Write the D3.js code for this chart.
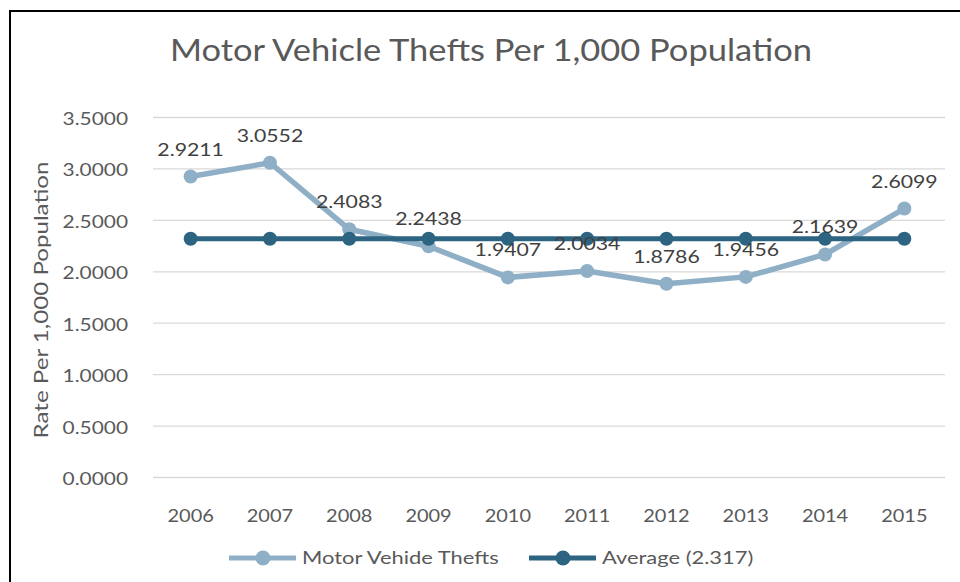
<!DOCTYPE html>
<html>
<head>
<meta charset="utf-8">
<script src="https://cdn.jsdelivr.net/npm/d3@7"></script>
<style>
  html, body { margin: 0; padding: 0; background: #fff; }
  svg { display: block; }
  text { font-family: Lato, "Open Sans", "Liberation Sans", sans-serif; }
</style>
</head>
<body>
<svg id="chart" width="960" height="582"></svg>
<script>
// Motor vehicle theft rates per 1,000 population, 2006-2015
const years = ["2006", "2007", "2008", "2009", "2010", "2011", "2012", "2013", "2014", "2015"];
const thefts = [2.9211, 3.0552, 2.4083, 2.2438, 1.9407, 2.0034, 1.8786, 1.9456, 2.1639, 2.6099];
const average = [2.317, 2.317, 2.317, 2.317, 2.317, 2.317, 2.317, 2.317, 2.317, 2.317];
const yTicks = [0, 0.5, 1.0, 1.5, 2.0, 2.5, 3.0, 3.5];
const seriesNames = ["Motor Vehide Thefts", "Average (2.317)"];

const lightColor = "#8EAFC6";
const darkColor = "#2C6482";
const textColor = "#595959";

const svg = d3.select("#chart");

// chart frame
svg.append("rect")
  .attr("x", 10).attr("y", 11)
  .attr("width", 1000).attr("height", 700)
  .attr("fill", "#fff")
  .attr("stroke", "#000").attr("stroke-width", 2);

const plot = { left: 153, right: 945, top: 117, bottom: 477 };

const x = d3.scaleBand().domain(years).range([plot.left - 2, plot.right - 1]);
const y = d3.scaleLinear().domain([0, 3.5]).range([plot.bottom, plot.top]);
const cx = d => x(d) + x.bandwidth() / 2;

// text is drawn slightly wide, like the original office chart font
const wide = (tx, ty, sx) => `translate(${tx},${ty}) scale(${sx},1)`;

// title
svg.append("text")
  .attr("transform", wide(491, 61, 1.15))
  .attr("text-anchor", "middle")
  .attr("font-size", 30)
  .attr("fill", textColor)
  .text("Motor Vehicle Thefts Per 1,000 Population");

// gridlines and value axis
const yAxis = d3.axisLeft(y)
  .tickValues(yTicks)
  .tickFormat(d3.format(".4f"))
  .tickSize(-(plot.right - plot.left));

const gy = svg.append("g")
  .attr("transform", `translate(${plot.left},0)`)
  .call(yAxis);
gy.select(".domain").remove();
gy.selectAll(".tick line").attr("stroke", "#d9d9d9").attr("stroke-width", 1.3);
gy.selectAll(".tick text")
  .attr("x", 0)
  .attr("dy", "0.36em")
  .attr("transform", wide(-25, 1, 1.16))
  .attr("font-size", 18)
  .attr("fill", textColor)
  .attr("font-family", "Lato, 'Open Sans', sans-serif");

// category axis labels
const xAxis = d3.axisBottom(x).tickSize(0);
const gx = svg.append("g")
  .attr("transform", `translate(0,${plot.bottom})`)
  .call(xAxis);
gx.select(".domain").remove();
gx.selectAll(".tick text")
  .attr("y", 0)
  .attr("dy", 0)
  .attr("transform", wide(0, 45, 1.11))
  .attr("font-size", 18)
  .attr("fill", textColor)
  .attr("font-family", "Lato, 'Open Sans', sans-serif");

// value axis title
svg.append("text")
  .attr("transform", `translate(48,${(plot.top + plot.bottom) / 2 + 3}) rotate(-90) scale(1.27,1)`)
  .attr("text-anchor", "middle")
  .attr("font-size", 19)
  .attr("fill", textColor)
  .text("Rate Per 1,000 Population");

const line = d3.line().x((d, i) => cx(years[i])).y(d => y(d));

// theft series
svg.append("path")
  .datum(thefts)
  .attr("d", line)
  .attr("fill", "none")
  .attr("stroke", lightColor)
  .attr("stroke-width", 5.5)
  .attr("stroke-linejoin", "round");
svg.selectAll(".pt-thefts")
  .data(thefts)
  .enter().append("circle")
  .attr("class", "pt-thefts")
  .attr("cx", (d, i) => cx(years[i]))
  .attr("cy", d => y(d))
  .attr("r", 7)
  .attr("fill", lightColor);

// average series
svg.append("path")
  .datum(average)
  .attr("d", line)
  .attr("fill", "none")
  .attr("stroke", darkColor)
  .attr("stroke-width", 5);
svg.selectAll(".pt-avg")
  .data(average)
  .enter().append("circle")
  .attr("class", "pt-avg")
  .attr("cx", (d, i) => cx(years[i]))
  .attr("cy", d => y(d))
  .attr("r", 7)
  .attr("fill", darkColor);

// data labels for thefts
svg.selectAll(".lbl")
  .data(thefts)
  .enter().append("text")
  .attr("class", "lbl")
  .attr("transform", (d, i) => wide(cx(years[i]), y(d) - 21, 1.18))
  .attr("text-anchor", "middle")
  .attr("font-size", 18)
  .attr("fill", "#404040")
  .text(d => d.toFixed(4));

// legend
const legendItems = [
  { name: seriesNames[0], color: lightColor, x0: 229 },
  { name: seriesNames[1], color: darkColor, x0: 529 }
];
const lg = svg.selectAll(".legend")
  .data(legendItems)
  .enter().append("g")
  .attr("class", "legend")
  .attr("transform", d => `translate(${d.x0},558)`);
lg.append("line")
  .attr("x1", 0).attr("x2", 67)
  .attr("y1", 0).attr("y2", 0)
  .attr("stroke", d => d.color)
  .attr("stroke-width", 5);
lg.append("circle")
  .attr("cx", 34).attr("cy", 0).attr("r", 7.5)
  .attr("fill", d => d.color);
lg.append("text")
  .attr("transform", wide(73, 6, 1.29))
  .attr("font-size", 17)
  .attr("fill", textColor)
  .text(d => d.name);
</script>
</body>
</html>
